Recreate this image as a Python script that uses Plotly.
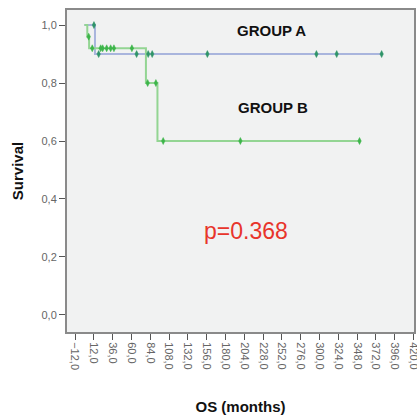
import plotly.graph_objects as go
import bisect

# ---- data ----
a_times = [0, 13.5, 379.2]
a_surv = [1.0, 0.9, 0.9]
a_censor = [12.2, 18.2, 66.6, 81.4, 86.5, 156.9, 296.0, 321.9, 379.2]

b_times = [0, 3.7, 6.0, 78.5, 93.2, 351.0]
b_surv = [1.0, 0.96, 0.92, 0.8, 0.6, 0.6]
b_censor = [5.5, 10.0, 20.8, 23.3, 28.4, 33.5, 37.7, 60.6, 80.7, 91.2, 100.5, 199.0, 351.0]

x_ticks = [-12 + 24 * i for i in range(19)]
x_ticktext = [f"{v:.1f}".replace(".", ",").replace("-", "\u2212") for v in x_ticks]
y_ticks = [0.0, 0.2, 0.4, 0.6, 0.8, 1.0]
y_ticktext = [f"{v:.1f}".replace(".", ",") for v in y_ticks]

group_labels = ["GROUP A", "GROUP B"]
p_text = "p=0.368"


def surv_at(times, surv, t):
    i = bisect.bisect_right(times, t) - 1
    return surv[max(i, 0)]


fig = go.Figure()

fig.add_trace(go.Scatter(x=a_times, y=a_surv, mode="lines", line_shape="hv",
                         line=dict(color="#a9b5dd", width=2), hoverinfo="skip"))
fig.add_trace(go.Scatter(x=b_times, y=b_surv, mode="lines", line_shape="hv",
                         line=dict(color="#93d593", width=2), hoverinfo="skip"))

fig.add_trace(go.Scatter(x=a_censor, y=[surv_at(a_times, a_surv, t) for t in a_censor],
                         mode="markers",
                         marker=dict(symbol="diamond-tall", size=5, color="#2f9468",
                                     line=dict(color="#2f9468", width=0.5))))
fig.add_trace(go.Scatter(x=b_censor, y=[surv_at(b_times, b_surv, t) for t in b_censor],
                         mode="markers",
                         marker=dict(symbol="diamond-tall", size=5, color="#3db54a",
                                     line=dict(color="#3db54a", width=0.5))))

fig.add_annotation(x=239, y=0.98, text=f"<b>{group_labels[0]}</b>", showarrow=False,
                   font=dict(family="Liberation Sans, Arial", size=15, color="#111111"))
fig.add_annotation(x=240, y=0.715, text=f"<b>{group_labels[1]}</b>", showarrow=False,
                   font=dict(family="Liberation Sans, Arial", size=15, color="#111111"))
fig.add_annotation(x=206, y=0.29, text=p_text, showarrow=False,
                   font=dict(family="Liberation Sans, Arial", size=23, color="#e8352b"))

fig.update_layout(
    width=417, height=418,
    margin=dict(l=67, r=3, t=10, b=86, autoexpand=False),
    paper_bgcolor="white", plot_bgcolor="#f1f2f2",
    showlegend=False,
    font=dict(family="Liberation Sans, Arial", size=11, color="#555555"),
)
fig.update_xaxes(range=[-22.2, 420.5], tickvals=x_ticks, ticktext=x_ticktext,
                 tickangle=90, ticks="outside", ticklen=6, tickcolor="#555555",
                 ticklabeloverflow="allow",
                 showgrid=False, zeroline=False, automargin=False,
                 showline=True, mirror=True, linecolor="#8a8a8a", linewidth=2,
                 tickfont=dict(size=11, color="#666666"),
                 title=dict(text="<b>OS (months)</b>", standoff=32,
                            font=dict(size=15, color="#111111")))
fig.update_yaxes(range=[-0.059, 1.052], tickvals=y_ticks, ticktext=y_ticktext,
                 ticks="outside", ticklen=6, tickcolor="#555555",
                 showgrid=False, zeroline=False, automargin=False,
                 showline=True, mirror=True, linecolor="#8a8a8a", linewidth=2,
                 tickfont=dict(size=11, color="#666666"),
                 title=dict(text="<b>Survival</b>", standoff=14,
                            font=dict(size=15, color="#111111")))

fig.write_html("out.html", config={"displayModeBar": False},
               post_script="document.body.style.margin='0';document.body.style.overflow='hidden';")
